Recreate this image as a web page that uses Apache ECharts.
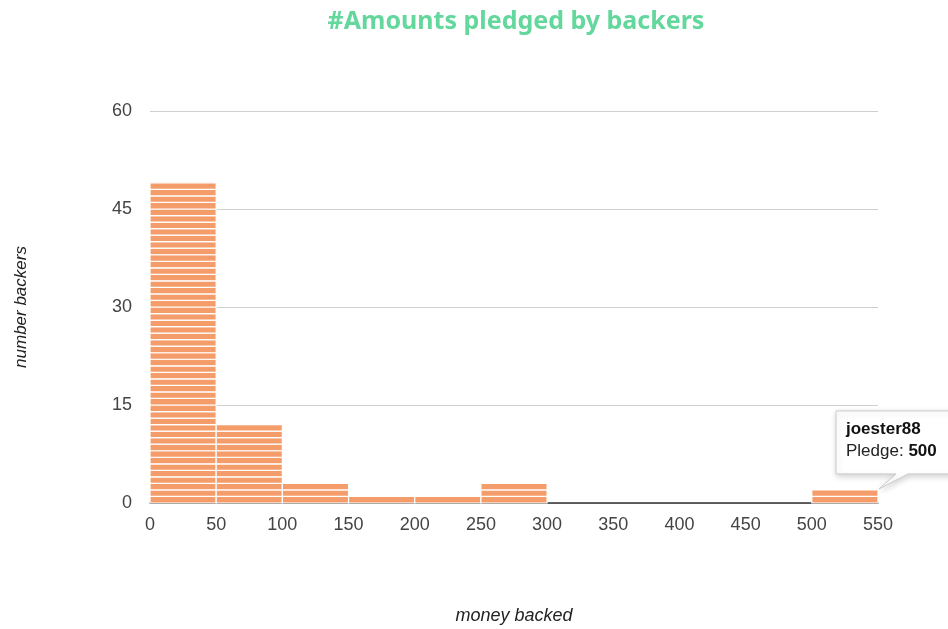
<!DOCTYPE html>
<html>
<head>
<meta charset="utf-8">
<script src="https://cdn.jsdelivr.net/npm/echarts@6/dist/echarts.min.js"></script>
<style>
html,body{margin:0;padding:0;background:#fff;}
#chart{width:948px;height:629px;}
</style>
</head>
<body>
<div id="chart"></div>
<script>
// Data
const binStarts = [0, 50, 100, 150, 200, 250, 500];
const binWidth = 50;
const binCounts = [49, 12, 3, 1, 1, 3, 2];
const xTicks = [0, 50, 100, 150, 200, 250, 300, 350, 400, 450, 500, 550];
const yTicks = [0, 15, 30, 45, 60];
const tooltipName = 'joester88';
const tooltipPledge = 500;

const barColor = '#f59d6a';

const chart = echarts.init(document.getElementById('chart'));

const seriesData = binStarts.map((s, i) => [s, s + binWidth, binCounts[i]]);

const option = {
  backgroundColor: '#fff',
  animation: false,
  title: {
    text: '#Amounts pledged by backers',
    left: 511,
    top: 4,
    textAlign: 'center',
    textStyle: {
      color: '#63d79c',
      fontFamily: 'Noto Sans',
      fontWeight: 'bold',
      fontSize: 25
    }
  },
  grid: { left: 150, right: 70, top: 111, bottom: 126, containLabel: false, outerBoundsMode: 'none' },
  xAxis: {
    type: 'value',
    min: xTicks[0],
    max: xTicks[xTicks.length - 1],
    interval: 50,
    name: 'money backed',
    nameLocation: 'middle',
    nameGap: 104,
    nameTextStyle: { fontFamily: 'Liberation Sans', fontStyle: 'italic', fontSize: 18, color: '#222' },
    axisLine: { show: true, onZero: false, lineStyle: { color: '#333', width: 1.5 } },
    axisTick: { show: false },
    splitLine: { show: false },
    axisLabel: { fontFamily: 'Liberation Sans', fontSize: 18, color: '#444', margin: 13 }
  },
  yAxis: {
    type: 'value',
    min: yTicks[0],
    max: yTicks[yTicks.length - 1],
    interval: 15,
    name: 'number backers',
    nameLocation: 'middle',
    nameGap: 120,
    nameRotate: 90,
    nameTextStyle: { fontFamily: 'Liberation Sans', fontStyle: 'italic', fontSize: 17, color: '#222' },
    axisLine: { show: false },
    axisTick: { show: false },
    splitLine: { lineStyle: { color: '#cfcfcf', width: 1 } },
    axisLabel: { fontFamily: 'Liberation Sans', fontSize: 18, color: '#444', margin: 18 }
  },
  series: [{
    type: 'custom',
    coordinateSystem: 'cartesian2d',
    encode: { x: [0, 1], y: 2 },
    data: seriesData,
    renderItem: function (params, api) {
      const x0 = api.value(0), x1 = api.value(1), n = api.value(2);
      const children = [];
      for (let k = 0; k < n; k++) {
        const p0 = api.coord([x0, k]);
        const p1 = api.coord([x1, k + 1]);
        children.push({
          type: 'rect',
          shape: { x: p0[0], y: p1[1], width: p1[0] - p0[0], height: p0[1] - p1[1] },
          style: { fill: barColor, stroke: '#fff', lineWidth: 1.2 }
        });
      }
      return { type: 'group', children: children };
    },
    z: 3
  }]
};

chart.setOption(option);

// Tooltip callout anchored to the last bin (computed through the chart's scales)
const lastIdx = binStarts.length - 1;
const anchor = chart.convertToPixel({ gridIndex: 0 }, [binStarts[lastIdx] + binWidth, binCounts[lastIdx]]);
const bx = anchor[0] - 42, by = anchor[1] - 79, bw = 140, bh = 63;
const ax = anchor[0] + 1, ay = anchor[1] - 1;
chart.setOption({
  graphic: [{
    type: 'polygon',
    z: 100,
    shape: {
      points: [
        [bx, by], [bx + bw, by], [bx + bw, by + bh],
        [bx + 72, by + bh], [ax, ay], [bx + 60, by + bh],
        [bx, by + bh]
      ]
    },
    style: {
      fill: '#fff', stroke: '#cccccc', lineWidth: 1,
      shadowBlur: 6, shadowColor: 'rgba(0,0,0,0.18)', shadowOffsetX: 1, shadowOffsetY: 2
    }
  }, {
    type: 'text',
    z: 101,
    left: bx + 10,
    top: by + 10,
    style: {
      text: '{b|' + tooltipName + '}\n{n|Pledge: }{b|' + tooltipPledge + '}',
      rich: {
        b: { fontFamily: 'Liberation Sans', fontWeight: 'bold', fontSize: 17, fill: '#111', lineHeight: 22 },
        n: { fontFamily: 'Liberation Sans', fontSize: 17, fill: '#222', lineHeight: 22 }
      }
    }
  }]
});
</script>
</body>
</html>
